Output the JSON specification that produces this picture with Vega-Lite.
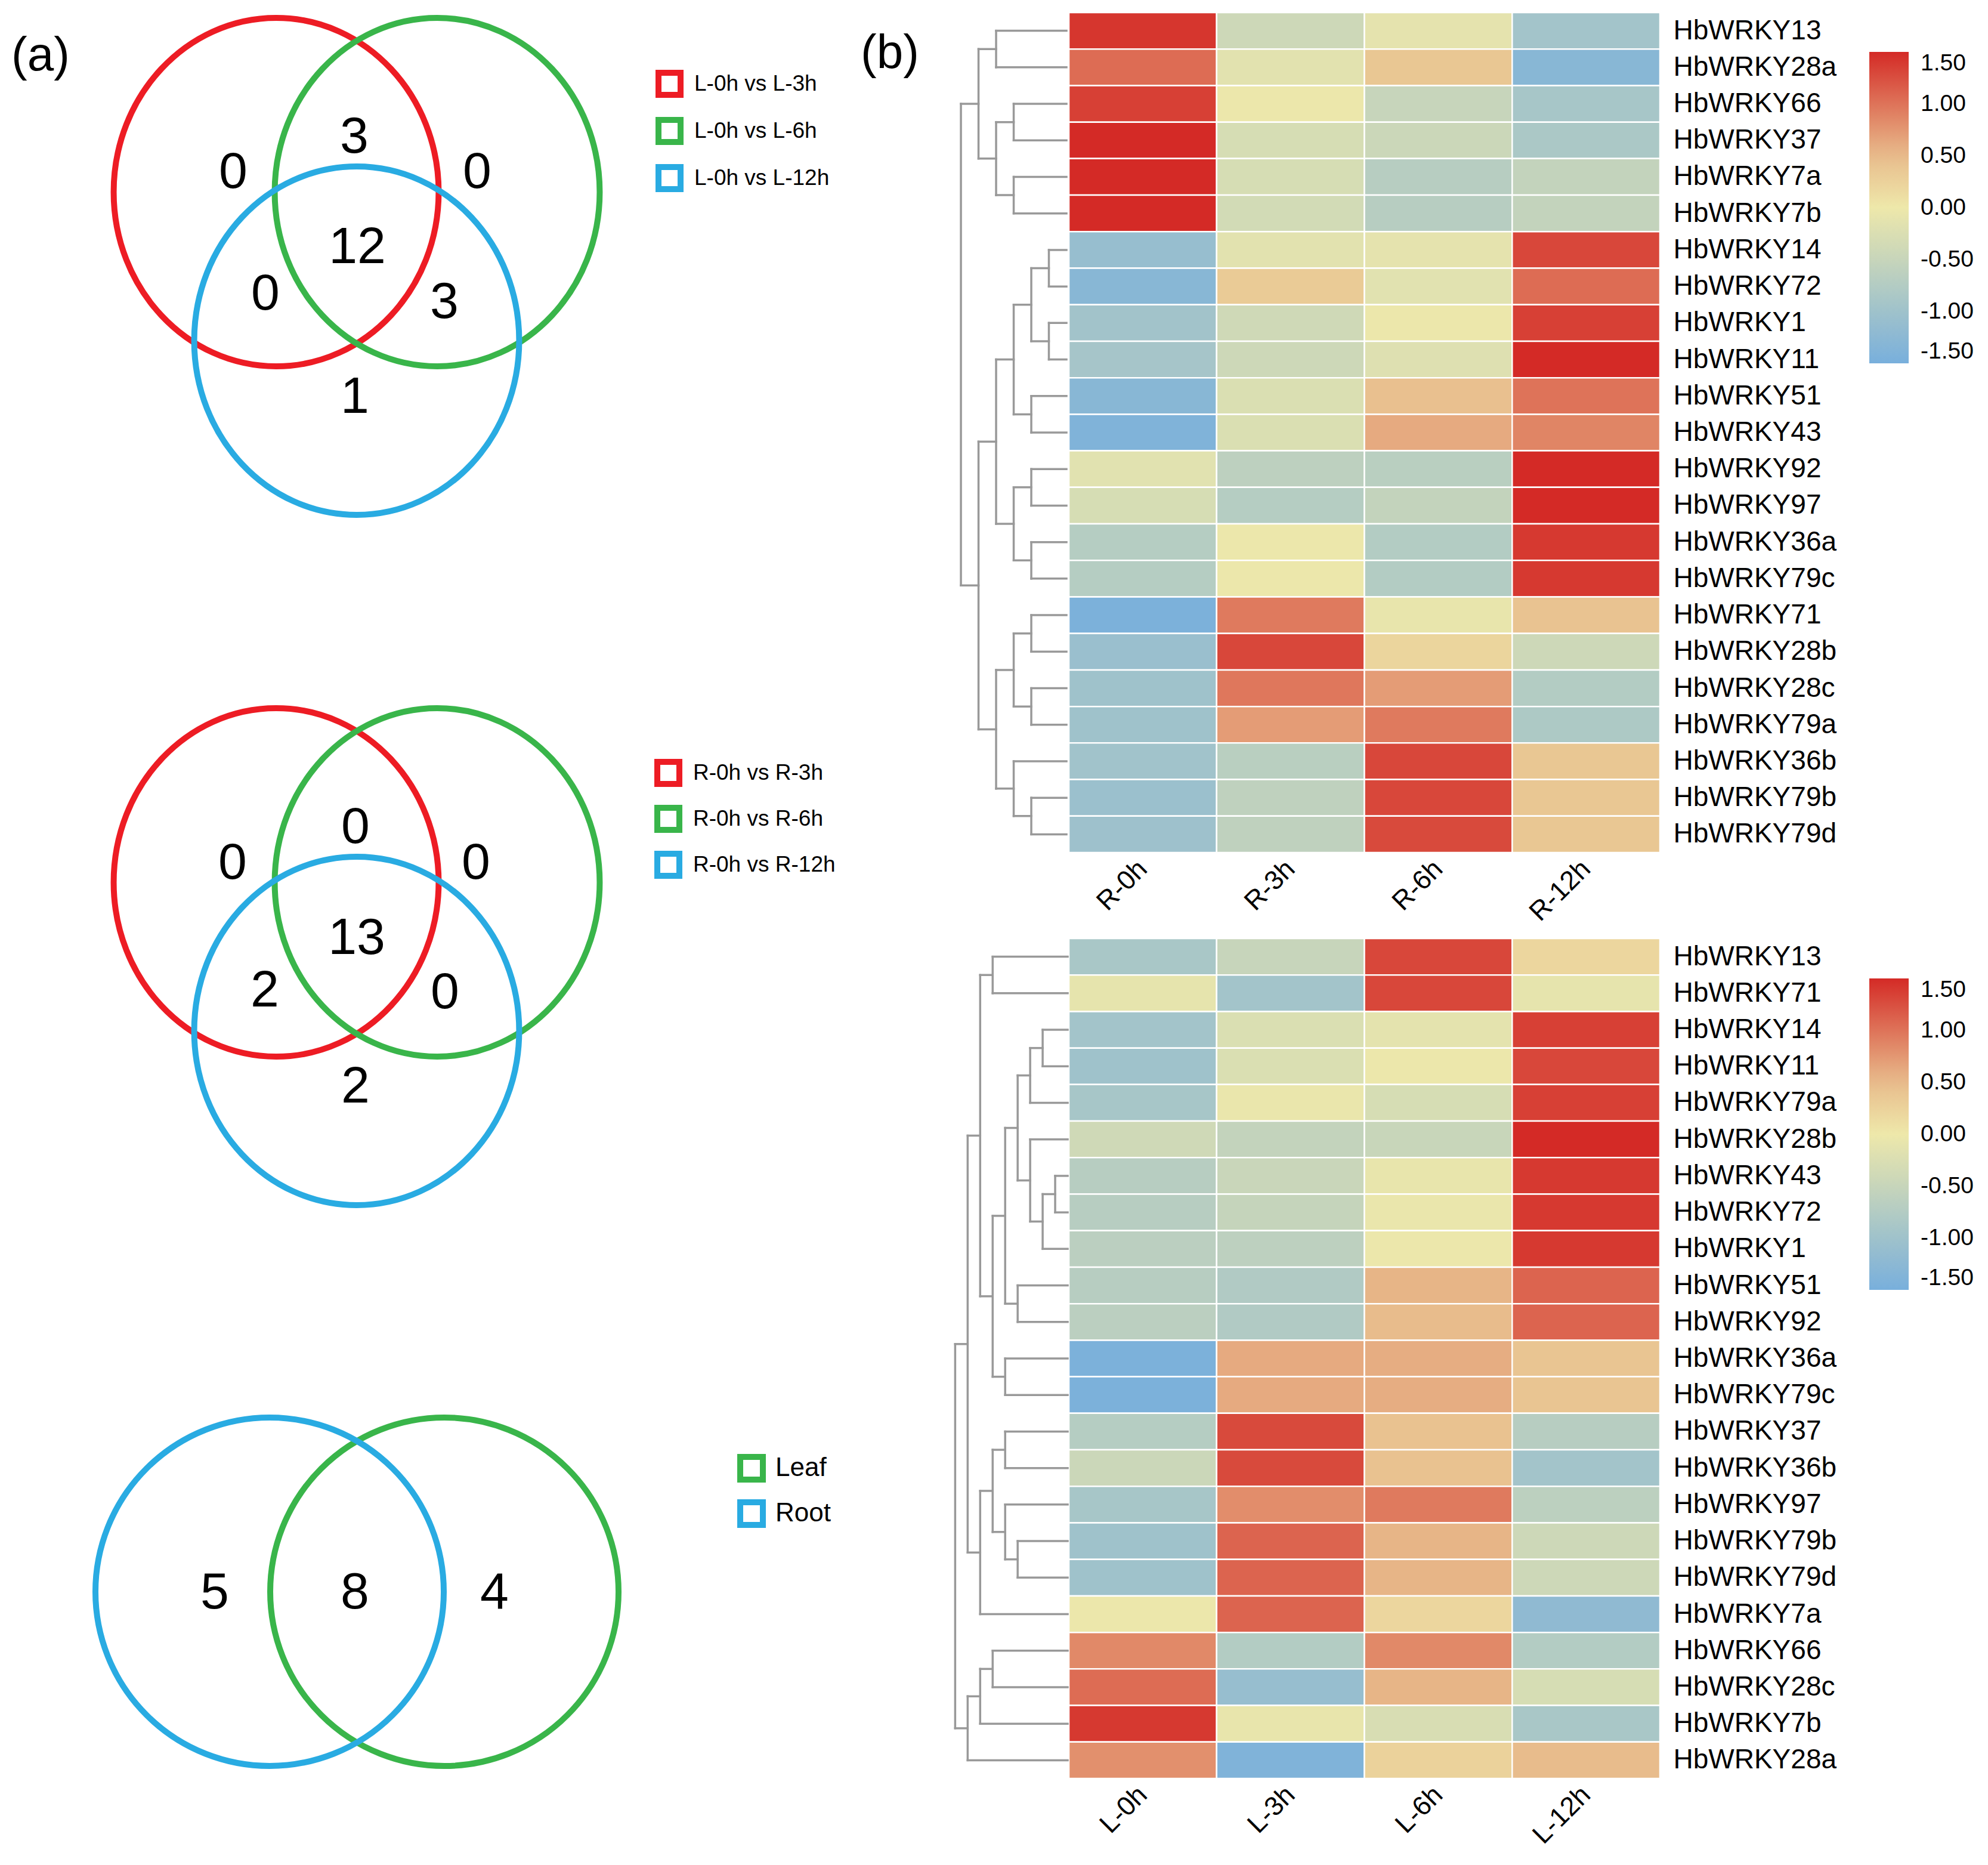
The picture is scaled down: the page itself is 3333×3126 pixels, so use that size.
{
  "$schema": "https://vega.github.io/schema/vega-lite/v6.json",
  "padding": 0,
  "background": "white",
  "config": {
    "view": {"stroke": null},
    "font": "Liberation Sans",
    "axis": {"labelFont": "Liberation Sans", "labelColor": "#000000"},
    "legend": {"labelFont": "Liberation Sans", "labelColor": "#000000", "padding": 0},
    "text": {"font": "Liberation Sans", "color": "#000000"}
  },
  "datasets": {
    "heat1": [
      {"gene": "HbWRKY13", "sample": "R-0h", "value": 1.42}, {"gene": "HbWRKY13", "sample": "R-3h", "value": -0.42}, {"gene": "HbWRKY13", "sample": "R-6h", "value": -0.12}, {"gene": "HbWRKY13", "sample": "R-12h", "value": -0.95},
      {"gene": "HbWRKY28a", "sample": "R-0h", "value": 1.05}, {"gene": "HbWRKY28a", "sample": "R-3h", "value": -0.15}, {"gene": "HbWRKY28a", "sample": "R-6h", "value": 0.38}, {"gene": "HbWRKY28a", "sample": "R-12h", "value": -1.3},
      {"gene": "HbWRKY66", "sample": "R-0h", "value": 1.35}, {"gene": "HbWRKY66", "sample": "R-3h", "value": -0.03}, {"gene": "HbWRKY66", "sample": "R-6h", "value": -0.5}, {"gene": "HbWRKY66", "sample": "R-12h", "value": -0.9},
      {"gene": "HbWRKY37", "sample": "R-0h", "value": 1.5}, {"gene": "HbWRKY37", "sample": "R-3h", "value": -0.3}, {"gene": "HbWRKY37", "sample": "R-6h", "value": -0.45}, {"gene": "HbWRKY37", "sample": "R-12h", "value": -0.85},
      {"gene": "HbWRKY7a", "sample": "R-0h", "value": 1.5}, {"gene": "HbWRKY7a", "sample": "R-3h", "value": -0.3}, {"gene": "HbWRKY7a", "sample": "R-6h", "value": -0.7}, {"gene": "HbWRKY7a", "sample": "R-12h", "value": -0.55},
      {"gene": "HbWRKY7b", "sample": "R-0h", "value": 1.5}, {"gene": "HbWRKY7b", "sample": "R-3h", "value": -0.35}, {"gene": "HbWRKY7b", "sample": "R-6h", "value": -0.7}, {"gene": "HbWRKY7b", "sample": "R-12h", "value": -0.55},
      {"gene": "HbWRKY14", "sample": "R-0h", "value": -1.1}, {"gene": "HbWRKY14", "sample": "R-3h", "value": -0.15}, {"gene": "HbWRKY14", "sample": "R-6h", "value": -0.12}, {"gene": "HbWRKY14", "sample": "R-12h", "value": 1.3},
      {"gene": "HbWRKY72", "sample": "R-0h", "value": -1.3}, {"gene": "HbWRKY72", "sample": "R-3h", "value": 0.33}, {"gene": "HbWRKY72", "sample": "R-6h", "value": -0.17}, {"gene": "HbWRKY72", "sample": "R-12h", "value": 1.05},
      {"gene": "HbWRKY1", "sample": "R-0h", "value": -0.97}, {"gene": "HbWRKY1", "sample": "R-3h", "value": -0.4}, {"gene": "HbWRKY1", "sample": "R-6h", "value": -0.03}, {"gene": "HbWRKY1", "sample": "R-12h", "value": 1.35},
      {"gene": "HbWRKY11", "sample": "R-0h", "value": -0.92}, {"gene": "HbWRKY11", "sample": "R-3h", "value": -0.42}, {"gene": "HbWRKY11", "sample": "R-6h", "value": -0.2}, {"gene": "HbWRKY11", "sample": "R-12h", "value": 1.5},
      {"gene": "HbWRKY51", "sample": "R-0h", "value": -1.3}, {"gene": "HbWRKY51", "sample": "R-3h", "value": -0.25}, {"gene": "HbWRKY51", "sample": "R-6h", "value": 0.45}, {"gene": "HbWRKY51", "sample": "R-12h", "value": 1.0},
      {"gene": "HbWRKY43", "sample": "R-0h", "value": -1.4}, {"gene": "HbWRKY43", "sample": "R-3h", "value": -0.25}, {"gene": "HbWRKY43", "sample": "R-6h", "value": 0.62}, {"gene": "HbWRKY43", "sample": "R-12h", "value": 0.88},
      {"gene": "HbWRKY92", "sample": "R-0h", "value": -0.17}, {"gene": "HbWRKY92", "sample": "R-3h", "value": -0.62}, {"gene": "HbWRKY92", "sample": "R-6h", "value": -0.67}, {"gene": "HbWRKY92", "sample": "R-12h", "value": 1.5},
      {"gene": "HbWRKY97", "sample": "R-0h", "value": -0.3}, {"gene": "HbWRKY97", "sample": "R-3h", "value": -0.72}, {"gene": "HbWRKY97", "sample": "R-6h", "value": -0.55}, {"gene": "HbWRKY97", "sample": "R-12h", "value": 1.5},
      {"gene": "HbWRKY36a", "sample": "R-0h", "value": -0.72}, {"gene": "HbWRKY36a", "sample": "R-3h", "value": -0.03}, {"gene": "HbWRKY36a", "sample": "R-6h", "value": -0.75}, {"gene": "HbWRKY36a", "sample": "R-12h", "value": 1.4},
      {"gene": "HbWRKY79c", "sample": "R-0h", "value": -0.72}, {"gene": "HbWRKY79c", "sample": "R-3h", "value": -0.03}, {"gene": "HbWRKY79c", "sample": "R-6h", "value": -0.75}, {"gene": "HbWRKY79c", "sample": "R-12h", "value": 1.4},
      {"gene": "HbWRKY71", "sample": "R-0h", "value": -1.45}, {"gene": "HbWRKY71", "sample": "R-3h", "value": 0.95}, {"gene": "HbWRKY71", "sample": "R-6h", "value": -0.07}, {"gene": "HbWRKY71", "sample": "R-12h", "value": 0.42},
      {"gene": "HbWRKY28b", "sample": "R-0h", "value": -1.07}, {"gene": "HbWRKY28b", "sample": "R-3h", "value": 1.3}, {"gene": "HbWRKY28b", "sample": "R-6h", "value": 0.22}, {"gene": "HbWRKY28b", "sample": "R-12h", "value": -0.42},
      {"gene": "HbWRKY28c", "sample": "R-0h", "value": -1.0}, {"gene": "HbWRKY28c", "sample": "R-3h", "value": 0.97}, {"gene": "HbWRKY28c", "sample": "R-6h", "value": 0.72}, {"gene": "HbWRKY28c", "sample": "R-12h", "value": -0.75},
      {"gene": "HbWRKY79a", "sample": "R-0h", "value": -1.0}, {"gene": "HbWRKY79a", "sample": "R-3h", "value": 0.72}, {"gene": "HbWRKY79a", "sample": "R-6h", "value": 0.95}, {"gene": "HbWRKY79a", "sample": "R-12h", "value": -0.82},
      {"gene": "HbWRKY36b", "sample": "R-0h", "value": -0.98}, {"gene": "HbWRKY36b", "sample": "R-3h", "value": -0.67}, {"gene": "HbWRKY36b", "sample": "R-6h", "value": 1.3}, {"gene": "HbWRKY36b", "sample": "R-12h", "value": 0.38},
      {"gene": "HbWRKY79b", "sample": "R-0h", "value": -1.05}, {"gene": "HbWRKY79b", "sample": "R-3h", "value": -0.6}, {"gene": "HbWRKY79b", "sample": "R-6h", "value": 1.3}, {"gene": "HbWRKY79b", "sample": "R-12h", "value": 0.38},
      {"gene": "HbWRKY79d", "sample": "R-0h", "value": -1.02}, {"gene": "HbWRKY79d", "sample": "R-3h", "value": -0.6}, {"gene": "HbWRKY79d", "sample": "R-6h", "value": 1.28}, {"gene": "HbWRKY79d", "sample": "R-12h", "value": 0.38}
    ],
    "heat2": [
      {"gene": "HbWRKY13", "sample": "L-0h", "value": -0.88}, {"gene": "HbWRKY13", "sample": "L-3h", "value": -0.5}, {"gene": "HbWRKY13", "sample": "L-6h", "value": 1.3}, {"gene": "HbWRKY13", "sample": "L-12h", "value": 0.2},
      {"gene": "HbWRKY71", "sample": "L-0h", "value": -0.1}, {"gene": "HbWRKY71", "sample": "L-3h", "value": -0.95}, {"gene": "HbWRKY71", "sample": "L-6h", "value": 1.3}, {"gene": "HbWRKY71", "sample": "L-12h", "value": -0.1},
      {"gene": "HbWRKY14", "sample": "L-0h", "value": -0.95}, {"gene": "HbWRKY14", "sample": "L-3h", "value": -0.25}, {"gene": "HbWRKY14", "sample": "L-6h", "value": -0.13}, {"gene": "HbWRKY14", "sample": "L-12h", "value": 1.35},
      {"gene": "HbWRKY11", "sample": "L-0h", "value": -1.0}, {"gene": "HbWRKY11", "sample": "L-3h", "value": -0.25}, {"gene": "HbWRKY11", "sample": "L-6h", "value": -0.03}, {"gene": "HbWRKY11", "sample": "L-12h", "value": 1.3},
      {"gene": "HbWRKY79a", "sample": "L-0h", "value": -0.9}, {"gene": "HbWRKY79a", "sample": "L-3h", "value": -0.05}, {"gene": "HbWRKY79a", "sample": "L-6h", "value": -0.3}, {"gene": "HbWRKY79a", "sample": "L-12h", "value": 1.35},
      {"gene": "HbWRKY28b", "sample": "L-0h", "value": -0.4}, {"gene": "HbWRKY28b", "sample": "L-3h", "value": -0.55}, {"gene": "HbWRKY28b", "sample": "L-6h", "value": -0.48}, {"gene": "HbWRKY28b", "sample": "L-12h", "value": 1.5},
      {"gene": "HbWRKY43", "sample": "L-0h", "value": -0.7}, {"gene": "HbWRKY43", "sample": "L-3h", "value": -0.47}, {"gene": "HbWRKY43", "sample": "L-6h", "value": -0.07}, {"gene": "HbWRKY43", "sample": "L-12h", "value": 1.4},
      {"gene": "HbWRKY72", "sample": "L-0h", "value": -0.7}, {"gene": "HbWRKY72", "sample": "L-3h", "value": -0.52}, {"gene": "HbWRKY72", "sample": "L-6h", "value": -0.05}, {"gene": "HbWRKY72", "sample": "L-12h", "value": 1.4},
      {"gene": "HbWRKY1", "sample": "L-0h", "value": -0.65}, {"gene": "HbWRKY1", "sample": "L-3h", "value": -0.62}, {"gene": "HbWRKY1", "sample": "L-6h", "value": -0.03}, {"gene": "HbWRKY1", "sample": "L-12h", "value": 1.4},
      {"gene": "HbWRKY51", "sample": "L-0h", "value": -0.7}, {"gene": "HbWRKY51", "sample": "L-3h", "value": -0.78}, {"gene": "HbWRKY51", "sample": "L-6h", "value": 0.55}, {"gene": "HbWRKY51", "sample": "L-12h", "value": 1.1},
      {"gene": "HbWRKY92", "sample": "L-0h", "value": -0.65}, {"gene": "HbWRKY92", "sample": "L-3h", "value": -0.78}, {"gene": "HbWRKY92", "sample": "L-6h", "value": 0.5}, {"gene": "HbWRKY92", "sample": "L-12h", "value": 1.1},
      {"gene": "HbWRKY36a", "sample": "L-0h", "value": -1.45}, {"gene": "HbWRKY36a", "sample": "L-3h", "value": 0.62}, {"gene": "HbWRKY36a", "sample": "L-6h", "value": 0.6}, {"gene": "HbWRKY36a", "sample": "L-12h", "value": 0.4},
      {"gene": "HbWRKY79c", "sample": "L-0h", "value": -1.45}, {"gene": "HbWRKY79c", "sample": "L-3h", "value": 0.62}, {"gene": "HbWRKY79c", "sample": "L-6h", "value": 0.6}, {"gene": "HbWRKY79c", "sample": "L-12h", "value": 0.4},
      {"gene": "HbWRKY37", "sample": "L-0h", "value": -0.72}, {"gene": "HbWRKY37", "sample": "L-3h", "value": 1.28}, {"gene": "HbWRKY37", "sample": "L-6h", "value": 0.43}, {"gene": "HbWRKY37", "sample": "L-12h", "value": -0.7},
      {"gene": "HbWRKY36b", "sample": "L-0h", "value": -0.45}, {"gene": "HbWRKY36b", "sample": "L-3h", "value": 1.28}, {"gene": "HbWRKY36b", "sample": "L-6h", "value": 0.43}, {"gene": "HbWRKY36b", "sample": "L-12h", "value": -0.95},
      {"gene": "HbWRKY97", "sample": "L-0h", "value": -0.9}, {"gene": "HbWRKY97", "sample": "L-3h", "value": 0.82}, {"gene": "HbWRKY97", "sample": "L-6h", "value": 0.95}, {"gene": "HbWRKY97", "sample": "L-12h", "value": -0.63},
      {"gene": "HbWRKY79b", "sample": "L-0h", "value": -1.0}, {"gene": "HbWRKY79b", "sample": "L-3h", "value": 1.1}, {"gene": "HbWRKY79b", "sample": "L-6h", "value": 0.55}, {"gene": "HbWRKY79b", "sample": "L-12h", "value": -0.42},
      {"gene": "HbWRKY79d", "sample": "L-0h", "value": -1.0}, {"gene": "HbWRKY79d", "sample": "L-3h", "value": 1.1}, {"gene": "HbWRKY79d", "sample": "L-6h", "value": 0.55}, {"gene": "HbWRKY79d", "sample": "L-12h", "value": -0.42},
      {"gene": "HbWRKY7a", "sample": "L-0h", "value": -0.03}, {"gene": "HbWRKY7a", "sample": "L-3h", "value": 1.1}, {"gene": "HbWRKY7a", "sample": "L-6h", "value": 0.2}, {"gene": "HbWRKY7a", "sample": "L-12h", "value": -1.2},
      {"gene": "HbWRKY66", "sample": "L-0h", "value": 0.85}, {"gene": "HbWRKY66", "sample": "L-3h", "value": -0.75}, {"gene": "HbWRKY66", "sample": "L-6h", "value": 0.85}, {"gene": "HbWRKY66", "sample": "L-12h", "value": -0.75},
      {"gene": "HbWRKY28c", "sample": "L-0h", "value": 1.05}, {"gene": "HbWRKY28c", "sample": "L-3h", "value": -1.1}, {"gene": "HbWRKY28c", "sample": "L-6h", "value": 0.55}, {"gene": "HbWRKY28c", "sample": "L-12h", "value": -0.3},
      {"gene": "HbWRKY7b", "sample": "L-0h", "value": 1.4}, {"gene": "HbWRKY7b", "sample": "L-3h", "value": -0.07}, {"gene": "HbWRKY7b", "sample": "L-6h", "value": -0.28}, {"gene": "HbWRKY7b", "sample": "L-12h", "value": -0.88},
      {"gene": "HbWRKY28a", "sample": "L-0h", "value": 0.8}, {"gene": "HbWRKY28a", "sample": "L-3h", "value": -1.4}, {"gene": "HbWRKY28a", "sample": "L-6h", "value": 0.25}, {"gene": "HbWRKY28a", "sample": "L-12h", "value": 0.5}
    ],
    "dendro1": [
      {"h1": 4, "h2": 4, "y1": 0.5, "y2": 1.5}, {"h1": 0, "h2": 4, "y1": 0.5, "y2": 0.5}, {"h1": 0, "h2": 4, "y1": 1.5, "y2": 1.5},
      {"h1": 3, "h2": 3, "y1": 2.5, "y2": 3.5}, {"h1": 0, "h2": 3, "y1": 2.5, "y2": 2.5}, {"h1": 0, "h2": 3, "y1": 3.5, "y2": 3.5},
      {"h1": 3, "h2": 3, "y1": 4.5, "y2": 5.5}, {"h1": 0, "h2": 3, "y1": 4.5, "y2": 4.5}, {"h1": 0, "h2": 3, "y1": 5.5, "y2": 5.5},
      {"h1": 4, "h2": 4, "y1": 3, "y2": 5}, {"h1": 3, "h2": 4, "y1": 3, "y2": 3}, {"h1": 3, "h2": 4, "y1": 5, "y2": 5},
      {"h1": 5, "h2": 5, "y1": 1, "y2": 4}, {"h1": 4, "h2": 5, "y1": 1, "y2": 1}, {"h1": 4, "h2": 5, "y1": 4, "y2": 4},
      {"h1": 1, "h2": 1, "y1": 6.5, "y2": 7.5}, {"h1": 0, "h2": 1, "y1": 6.5, "y2": 6.5}, {"h1": 0, "h2": 1, "y1": 7.5, "y2": 7.5},
      {"h1": 1, "h2": 1, "y1": 8.5, "y2": 9.5}, {"h1": 0, "h2": 1, "y1": 8.5, "y2": 8.5}, {"h1": 0, "h2": 1, "y1": 9.5, "y2": 9.5},
      {"h1": 2, "h2": 2, "y1": 7, "y2": 9}, {"h1": 1, "h2": 2, "y1": 7, "y2": 7}, {"h1": 1, "h2": 2, "y1": 9, "y2": 9},
      {"h1": 2, "h2": 2, "y1": 10.5, "y2": 11.5}, {"h1": 0, "h2": 2, "y1": 10.5, "y2": 10.5}, {"h1": 0, "h2": 2, "y1": 11.5, "y2": 11.5},
      {"h1": 3, "h2": 3, "y1": 8, "y2": 11}, {"h1": 2, "h2": 3, "y1": 8, "y2": 8}, {"h1": 2, "h2": 3, "y1": 11, "y2": 11},
      {"h1": 2, "h2": 2, "y1": 12.5, "y2": 13.5}, {"h1": 0, "h2": 2, "y1": 12.5, "y2": 12.5}, {"h1": 0, "h2": 2, "y1": 13.5, "y2": 13.5},
      {"h1": 2, "h2": 2, "y1": 14.5, "y2": 15.5}, {"h1": 0, "h2": 2, "y1": 14.5, "y2": 14.5}, {"h1": 0, "h2": 2, "y1": 15.5, "y2": 15.5},
      {"h1": 3, "h2": 3, "y1": 13, "y2": 15}, {"h1": 2, "h2": 3, "y1": 13, "y2": 13}, {"h1": 2, "h2": 3, "y1": 15, "y2": 15},
      {"h1": 4, "h2": 4, "y1": 9.5, "y2": 14}, {"h1": 3, "h2": 4, "y1": 9.5, "y2": 9.5}, {"h1": 3, "h2": 4, "y1": 14, "y2": 14},
      {"h1": 2, "h2": 2, "y1": 16.5, "y2": 17.5}, {"h1": 0, "h2": 2, "y1": 16.5, "y2": 16.5}, {"h1": 0, "h2": 2, "y1": 17.5, "y2": 17.5},
      {"h1": 2, "h2": 2, "y1": 18.5, "y2": 19.5}, {"h1": 0, "h2": 2, "y1": 18.5, "y2": 18.5}, {"h1": 0, "h2": 2, "y1": 19.5, "y2": 19.5},
      {"h1": 3, "h2": 3, "y1": 17, "y2": 19}, {"h1": 2, "h2": 3, "y1": 17, "y2": 17}, {"h1": 2, "h2": 3, "y1": 19, "y2": 19},
      {"h1": 2, "h2": 2, "y1": 21.5, "y2": 22.5}, {"h1": 0, "h2": 2, "y1": 21.5, "y2": 21.5}, {"h1": 0, "h2": 2, "y1": 22.5, "y2": 22.5},
      {"h1": 3, "h2": 3, "y1": 20.5, "y2": 22}, {"h1": 0, "h2": 3, "y1": 20.5, "y2": 20.5}, {"h1": 2, "h2": 3, "y1": 22, "y2": 22},
      {"h1": 4, "h2": 4, "y1": 18, "y2": 21.25}, {"h1": 3, "h2": 4, "y1": 18, "y2": 18}, {"h1": 3, "h2": 4, "y1": 21.25, "y2": 21.25},
      {"h1": 5, "h2": 5, "y1": 11.75, "y2": 19.625}, {"h1": 4, "h2": 5, "y1": 11.75, "y2": 11.75}, {"h1": 4, "h2": 5, "y1": 19.625, "y2": 19.625},
      {"h1": 6, "h2": 6, "y1": 2.5, "y2": 15.6875}, {"h1": 5, "h2": 6, "y1": 2.5, "y2": 2.5}, {"h1": 5, "h2": 6, "y1": 15.6875, "y2": 15.6875}
    ],
    "dendro2": [
      {"h1": 6, "h2": 6, "y1": 0.5, "y2": 1.5}, {"h1": 0, "h2": 6, "y1": 0.5, "y2": 0.5}, {"h1": 0, "h2": 6, "y1": 1.5, "y2": 1.5},
      {"h1": 2, "h2": 2, "y1": 2.5, "y2": 3.5}, {"h1": 0, "h2": 2, "y1": 2.5, "y2": 2.5}, {"h1": 0, "h2": 2, "y1": 3.5, "y2": 3.5},
      {"h1": 3, "h2": 3, "y1": 3, "y2": 4.5}, {"h1": 2, "h2": 3, "y1": 3, "y2": 3}, {"h1": 0, "h2": 3, "y1": 4.5, "y2": 4.5},
      {"h1": 1, "h2": 1, "y1": 6.5, "y2": 7.5}, {"h1": 0, "h2": 1, "y1": 6.5, "y2": 6.5}, {"h1": 0, "h2": 1, "y1": 7.5, "y2": 7.5},
      {"h1": 2, "h2": 2, "y1": 7, "y2": 8.5}, {"h1": 1, "h2": 2, "y1": 7, "y2": 7}, {"h1": 0, "h2": 2, "y1": 8.5, "y2": 8.5},
      {"h1": 3, "h2": 3, "y1": 5.5, "y2": 7.75}, {"h1": 0, "h2": 3, "y1": 5.5, "y2": 5.5}, {"h1": 2, "h2": 3, "y1": 7.75, "y2": 7.75},
      {"h1": 4, "h2": 4, "y1": 3.75, "y2": 6.625}, {"h1": 3, "h2": 4, "y1": 3.75, "y2": 3.75}, {"h1": 3, "h2": 4, "y1": 6.625, "y2": 6.625},
      {"h1": 4, "h2": 4, "y1": 9.5, "y2": 10.5}, {"h1": 0, "h2": 4, "y1": 9.5, "y2": 9.5}, {"h1": 0, "h2": 4, "y1": 10.5, "y2": 10.5},
      {"h1": 5, "h2": 5, "y1": 5.1875, "y2": 10}, {"h1": 4, "h2": 5, "y1": 5.1875, "y2": 5.1875}, {"h1": 4, "h2": 5, "y1": 10, "y2": 10},
      {"h1": 5, "h2": 5, "y1": 11.5, "y2": 12.5}, {"h1": 0, "h2": 5, "y1": 11.5, "y2": 11.5}, {"h1": 0, "h2": 5, "y1": 12.5, "y2": 12.5},
      {"h1": 6, "h2": 6, "y1": 7.594, "y2": 12}, {"h1": 5, "h2": 6, "y1": 7.594, "y2": 7.594}, {"h1": 5, "h2": 6, "y1": 12, "y2": 12},
      {"h1": 7, "h2": 7, "y1": 1, "y2": 9.797}, {"h1": 6, "h2": 7, "y1": 1, "y2": 1}, {"h1": 6, "h2": 7, "y1": 9.797, "y2": 9.797},
      {"h1": 5, "h2": 5, "y1": 13.5, "y2": 14.5}, {"h1": 0, "h2": 5, "y1": 13.5, "y2": 13.5}, {"h1": 0, "h2": 5, "y1": 14.5, "y2": 14.5},
      {"h1": 4, "h2": 4, "y1": 16.5, "y2": 17.5}, {"h1": 0, "h2": 4, "y1": 16.5, "y2": 16.5}, {"h1": 0, "h2": 4, "y1": 17.5, "y2": 17.5},
      {"h1": 5, "h2": 5, "y1": 15.5, "y2": 17}, {"h1": 0, "h2": 5, "y1": 15.5, "y2": 15.5}, {"h1": 4, "h2": 5, "y1": 17, "y2": 17},
      {"h1": 6, "h2": 6, "y1": 14, "y2": 16.25}, {"h1": 5, "h2": 6, "y1": 14, "y2": 14}, {"h1": 5, "h2": 6, "y1": 16.25, "y2": 16.25},
      {"h1": 7, "h2": 7, "y1": 15.125, "y2": 18.5}, {"h1": 6, "h2": 7, "y1": 15.125, "y2": 15.125}, {"h1": 0, "h2": 7, "y1": 18.5, "y2": 18.5},
      {"h1": 8, "h2": 8, "y1": 5.398, "y2": 16.813}, {"h1": 7, "h2": 8, "y1": 5.398, "y2": 5.398}, {"h1": 7, "h2": 8, "y1": 16.813, "y2": 16.813},
      {"h1": 6, "h2": 6, "y1": 19.5, "y2": 20.5}, {"h1": 0, "h2": 6, "y1": 19.5, "y2": 19.5}, {"h1": 0, "h2": 6, "y1": 20.5, "y2": 20.5},
      {"h1": 7, "h2": 7, "y1": 20, "y2": 21.5}, {"h1": 6, "h2": 7, "y1": 20, "y2": 20}, {"h1": 0, "h2": 7, "y1": 21.5, "y2": 21.5},
      {"h1": 8, "h2": 8, "y1": 20.75, "y2": 22.5}, {"h1": 7, "h2": 8, "y1": 20.75, "y2": 20.75}, {"h1": 0, "h2": 8, "y1": 22.5, "y2": 22.5},
      {"h1": 9, "h2": 9, "y1": 11.105, "y2": 21.625}, {"h1": 8, "h2": 9, "y1": 11.105, "y2": 11.105}, {"h1": 8, "h2": 9, "y1": 21.625, "y2": 21.625}
    ]
  },
  "spacing": 0,
  "hconcat": [
    {
      "spacing": 0,
      "resolve": {"scale": {"stroke": "independent"}, "legend": {"stroke": "independent"}},
      "vconcat": [
        {
          "width": 1440, "height": 1158,
          "layer": [
            {
              "data": {"values": [
                {"set": "L-0h vs L-3h", "cx": 463, "cy": 322},
                {"set": "L-0h vs L-6h", "cx": 733, "cy": 322},
                {"set": "L-0h vs L-12h", "cx": 598, "cy": 571}
              ]},
              "mark": {"type": "point", "filled": false, "opacity": 1, "strokeWidth": 10, "size": 341056,
                "shape": "M -0.933 0 C -0.933 -0.5523 -0.5153 -1 0 -1 C 0.5153 -1 0.933 -0.5523 0.933 0 C 0.933 0.5523 0.5153 1 0 1 C -0.5153 1 -0.933 0.5523 -0.933 0 Z"},
              "encoding": {
                "x": {"field": "cx", "type": "quantitative", "scale": {"domain": [0, 1440], "nice": false, "zero": false}, "axis": null},
                "y": {"field": "cy", "type": "quantitative", "scale": {"domain": [0, 1158], "nice": false, "zero": false, "reverse": true}, "axis": null},
                "stroke": {"field": "set", "type": "nominal",
                  "scale": {"domain": ["L-0h vs L-3h", "L-0h vs L-6h", "L-0h vs L-12h"], "range": ["#ed1c24", "#39b54a", "#29abe2"]},
                  "legend": {"orient": "none", "legendX": 1099, "legendY": 117, "title": null, "symbolType": "square", "symbolSize": 1369, "symbolStrokeWidth": 10, "symbolFillColor": "white", "symbolOpacity": 1, "labelFontSize": 37, "labelOffset": 18, "labelLimit": 1000, "rowPadding": 2}}
              }
            },
            {
              "data": {"values": [
                {"n": 0, "cx": 391, "cy": 289}, {"n": 3, "cx": 594, "cy": 230}, {"n": 0, "cx": 800, "cy": 289},
                {"n": 12, "cx": 599, "cy": 415}, {"n": 0, "cx": 445, "cy": 493}, {"n": 3, "cx": 745, "cy": 507}, {"n": 1, "cx": 595, "cy": 666}
              ]},
              "mark": {"type": "text", "fontSize": 86, "align": "center", "baseline": "middle"},
              "encoding": {
                "x": {"field": "cx", "type": "quantitative"},
                "y": {"field": "cy", "type": "quantitative"},
                "text": {"field": "n", "type": "nominal"}
              }
            },
            {
              "data": {"values": [{"label": "(a)"}]},
              "mark": {"type": "text", "fontSize": 80, "align": "center", "baseline": "middle"},
              "encoding": {"x": {"datum": 68}, "y": {"datum": 94}, "text": {"field": "label", "type": "nominal"}}
            }
          ]
        },
        {
          "width": 1440, "height": 1158,
          "layer": [
            {
              "data": {"values": [
                {"set": "R-0h vs R-3h", "cx": 463, "cy": 321},
                {"set": "R-0h vs R-6h", "cx": 733, "cy": 321},
                {"set": "R-0h vs R-12h", "cx": 598, "cy": 570}
              ]},
              "mark": {"type": "point", "filled": false, "opacity": 1, "strokeWidth": 10, "size": 341056,
                "shape": "M -0.933 0 C -0.933 -0.5523 -0.5153 -1 0 -1 C 0.5153 -1 0.933 -0.5523 0.933 0 C 0.933 0.5523 0.5153 1 0 1 C -0.5153 1 -0.933 0.5523 -0.933 0 Z"},
              "encoding": {
                "x": {"field": "cx", "type": "quantitative", "scale": {"domain": [0, 1440], "nice": false, "zero": false}, "axis": null},
                "y": {"field": "cy", "type": "quantitative", "scale": {"domain": [0, 1158], "nice": false, "zero": false, "reverse": true}, "axis": null},
                "stroke": {"field": "set", "type": "nominal",
                  "scale": {"domain": ["R-0h vs R-3h", "R-0h vs R-6h", "R-0h vs R-12h"], "range": ["#ed1c24", "#39b54a", "#29abe2"]},
                  "legend": {"orient": "none", "legendX": 1097, "legendY": 114, "title": null, "symbolType": "square", "symbolSize": 1369, "symbolStrokeWidth": 10, "symbolFillColor": "white", "symbolOpacity": 1, "labelFontSize": 37, "labelOffset": 18, "labelLimit": 1000, "rowPadding": 0}}
              }
            },
            {
              "data": {"values": [
                {"n": 0, "cx": 390, "cy": 289}, {"n": 0, "cx": 596, "cy": 229}, {"n": 0, "cx": 798, "cy": 289},
                {"n": 13, "cx": 598, "cy": 415}, {"n": 2, "cx": 444, "cy": 503}, {"n": 0, "cx": 746, "cy": 506}, {"n": 2, "cx": 596, "cy": 664}
              ]},
              "mark": {"type": "text", "fontSize": 86, "align": "center", "baseline": "middle"},
              "encoding": {
                "x": {"field": "cx", "type": "quantitative"},
                "y": {"field": "cy", "type": "quantitative"},
                "text": {"field": "n", "type": "nominal"}
              }
            }
          ]
        },
        {
          "width": 1440, "height": 790,
          "layer": [
            {
              "data": {"values": [
                {"set": "Leaf", "cx": 745, "cy": 352},
                {"set": "Root", "cx": 452, "cy": 352}
              ]},
              "mark": {"type": "point", "filled": false, "opacity": 1, "strokeWidth": 10, "size": 341056, "shape": "circle"},
              "encoding": {
                "x": {"field": "cx", "type": "quantitative", "scale": {"domain": [0, 1440], "nice": false, "zero": false}, "axis": null},
                "y": {"field": "cy", "type": "quantitative", "scale": {"domain": [0, 790], "nice": false, "zero": false, "reverse": true}, "axis": null},
                "stroke": {"field": "set", "type": "nominal",
                  "scale": {"domain": ["Leaf", "Root"], "range": ["#39b54a", "#29abe2"]},
                  "legend": {"orient": "none", "legendX": 1236, "legendY": 121, "title": null, "symbolType": "square", "symbolSize": 1444, "symbolStrokeWidth": 10, "symbolFillColor": "white", "symbolOpacity": 1, "labelFontSize": 44, "labelOffset": 16, "labelLimit": 1000, "rowPadding": -2}}
              }
            },
            {
              "data": {"values": [
                {"n": 5, "cx": 360, "cy": 354}, {"n": 8, "cx": 595, "cy": 354}, {"n": 4, "cx": 829, "cy": 354}
              ]},
              "mark": {"type": "text", "fontSize": 86, "align": "center", "baseline": "middle"},
              "encoding": {
                "x": {"field": "cx", "type": "quantitative"},
                "y": {"field": "cy", "type": "quantitative"},
                "text": {"field": "n", "type": "nominal"}
              }
            }
          ]
        }
      ]
    },
    {
      "spacing": 144,
      "bounds": "flush",
      "resolve": {"scale": {"color": "independent"}, "legend": {"color": "independent"}},
      "vconcat": [
        {
          "width": 1343, "height": 1429,
          "resolve": {"scale": {"x": "independent", "y": "independent"}, "axis": {"x": "independent", "y": "independent"}},
          "layer": [
            {
              "data": {"name": "heat1"},
              "mark": {"type": "rect", "stroke": "white", "strokeWidth": 2.5},
              "encoding": {
                "x": {"field": "sample", "type": "nominal", "sort": ["R-0h", "R-3h", "R-6h", "R-12h"], "scale": {"range": [352, 1343], "padding": 0},
                  "axis": {"orient": "bottom", "title": null, "labelAngle": -45, "labelAlign": "right", "labelBaseline": "middle", "labelFontSize": 45, "labelPadding": 20, "labelDy": 20, "ticks": false, "domain": false}},
                "y": {"field": "gene", "type": "nominal", "sort": null, "scale": {"range": [21, 1429], "padding": 0},
                  "axis": {"orient": "right", "title": null, "labelFontSize": 46, "labelPadding": 22, "labelLimit": 1000, "ticks": false, "domain": false}},
                "color": {"field": "value", "type": "quantitative",
                  "scale": {"domain": [-1.5, 0, 0.5, 1.5], "range": ["#78afdc", "#eee8aa", "#e8bc8c", "#d42a26"], "interpolate": "rgb"},
                  "legend": {"orient": "none", "legendX": 1694, "legendY": 87, "direction": "vertical", "gradientLength": 522, "gradientThickness": 66, "gradientStrokeWidth": 0,
                    "values": [-1.5, -1, -0.5, 0, 0.5, 1, 1.5], "format": ".2f", "labelExpr": "replace(datum.label, '\u2212', '-')",
                    "labelFontSize": 39, "labelOffset": 20, "labelBaseline": "middle", "labelOverlap": false, "labelLimit": 1000, "title": null}}
              }
            },
            {
              "layer": [
                {
                  "data": {"name": "dendro1"},
                  "mark": {"type": "rule", "color": "#999999", "strokeWidth": 3.5, "strokeCap": "square"},
                  "encoding": {
                    "x": {"field": "h1", "type": "quantitative", "scale": {"domain": [0, 11.8], "range": [348, 0], "nice": false, "zero": false}, "axis": null},
                    "x2": {"field": "h2"},
                    "y": {"field": "y1", "type": "quantitative", "scale": {"domain": [0, 23], "range": [21, 1429], "nice": false, "zero": false}, "axis": null},
                    "y2": {"field": "y2"}
                  }
                },
                {
                  "data": {"values": [{"label": "(b)"}]},
                  "mark": {"type": "text", "fontSize": 80, "align": "center", "baseline": "middle"},
                  "encoding": {"x": {"datum": 10.04}, "y": {"datum": 1.12}, "text": {"field": "label", "type": "nominal"}}
                }
              ]
            }
          ]
        },
        {
          "width": 1343, "height": 1408,
          "resolve": {"scale": {"x": "independent", "y": "independent"}, "axis": {"x": "independent", "y": "independent"}},
          "layer": [
            {
              "data": {"name": "heat2"},
              "mark": {"type": "rect", "stroke": "white", "strokeWidth": 2.5},
              "encoding": {
                "x": {"field": "sample", "type": "nominal", "sort": ["L-0h", "L-3h", "L-6h", "L-12h"], "scale": {"range": [352, 1343], "padding": 0},
                  "axis": {"orient": "bottom", "title": null, "labelAngle": -45, "labelAlign": "right", "labelBaseline": "middle", "labelFontSize": 45, "labelPadding": 20, "labelDy": 20, "ticks": false, "domain": false}},
                "y": {"field": "gene", "type": "nominal", "sort": null, "scale": {"padding": 0},
                  "axis": {"orient": "right", "title": null, "labelFontSize": 46, "labelPadding": 22, "labelLimit": 1000, "ticks": false, "domain": false}},
                "color": {"field": "value", "type": "quantitative",
                  "scale": {"domain": [-1.5, 0, 0.5, 1.5], "range": ["#78afdc", "#eee8aa", "#e8bc8c", "#d42a26"], "interpolate": "rgb"},
                  "legend": {"orient": "none", "legendX": 1694, "legendY": 67, "direction": "vertical", "gradientLength": 522, "gradientThickness": 66, "gradientStrokeWidth": 0,
                    "values": [-1.5, -1, -0.5, 0, 0.5, 1, 1.5], "format": ".2f", "labelExpr": "replace(datum.label, '\u2212', '-')",
                    "labelFontSize": 39, "labelOffset": 20, "labelBaseline": "middle", "labelOverlap": false, "labelLimit": 1000, "title": null}}
              }
            },
            {
              "data": {"name": "dendro2"},
              "mark": {"type": "rule", "color": "#999999", "strokeWidth": 3.5, "strokeCap": "square"},
              "encoding": {
                "x": {"field": "h1", "type": "quantitative", "scale": {"domain": [0, 16.7], "range": [350, 0], "nice": false, "zero": false}, "axis": null},
                "x2": {"field": "h2"},
                "y": {"field": "y1", "type": "quantitative", "scale": {"domain": [0, 23], "reverse": true, "nice": false, "zero": false}, "axis": null},
                "y2": {"field": "y2"}
              }
            }
          ]
        }
      ]
    }
  ]
}
